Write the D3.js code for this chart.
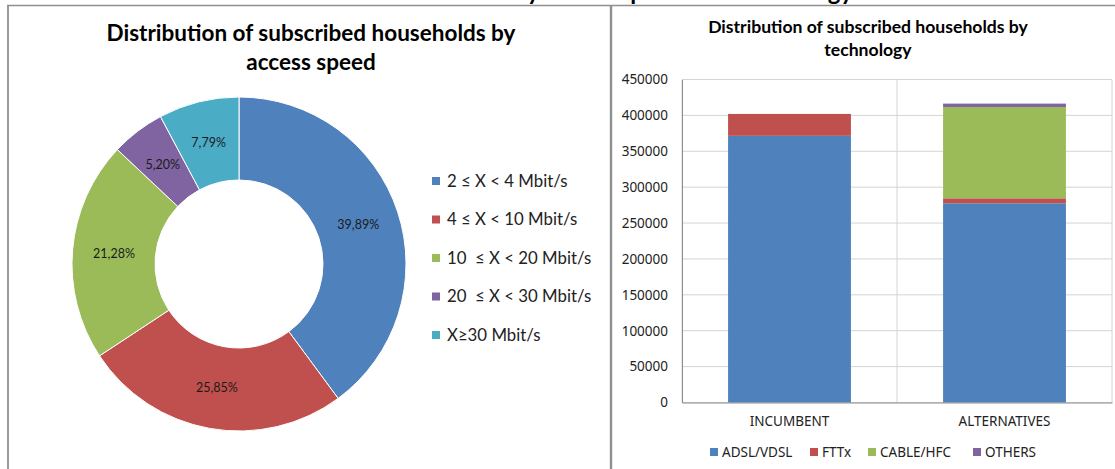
<!DOCTYPE html>
<html>
<head>
<meta charset="utf-8">
<script src="https://cdn.jsdelivr.net/npm/d3@7"></script>
<style>
  html, body { margin: 0; padding: 0; background: #fff; }
  svg { display: block; }
  text { white-space: pre; }
</style>
</head>
<body>
<svg id="chart" width="1115" height="469"></svg>
<script>
// Doughnut: share of subscribed households per access-speed class (%)
const speedCategories = ["2 ≤ X < 4 Mbit/s", "4 ≤ X < 10 Mbit/s", "10  ≤ X < 20 Mbit/s", "20  ≤ X < 30 Mbit/s", "X≥30 Mbit/s"];
const speedShares = [39.89, 25.85, 21.28, 5.20, 7.79];
const speedColors = ["#4F81BD", "#C0504D", "#9BBB59", "#8064A2", "#4BACC6"];

// Stacked bars: subscribed households per operator group and technology
const operatorGroups = ["INCUMBENT", "ALTERNATIVES"];
const technologies = ["ADSL/VDSL", "FTTx", "CABLE/HFC", "OTHERS"];
const adslVdsl = [371500, 277500];
const fttx = [30500, 7000];
const cableHfc = [0, 127200];
const others = [0, 4700];
const techColors = ["#4F81BD", "#C0504D", "#9BBB59", "#8064A2"];
const yTicks = [0, 50000, 100000, 150000, 200000, 250000, 300000, 350000, 400000, 450000];

const svg = d3.select("#chart");
const titleFont = "Lato, 'Open Sans', sans-serif";
const axisFont = "'Noto Sans', 'Open Sans', sans-serif";

// Document heading running above both charts (clipped by the top edge)
svg.append("text")
  .attr("x", 956).attr("y", 0)
  .attr("text-anchor", "end")
  .attr("font-family", titleFont).attr("font-weight", 700).attr("font-size", 24)
  .attr("fill", "#000")
  .text("Chart 3: Distribution of subscribed households by access speed and technology – Croatia");

// Chart frames
const frame = svg.append("g").attr("stroke", "#8f8f8f").attr("fill", "none");
frame.append("line").attr("x1", 7).attr("x2", 1115).attr("y1", 5.5).attr("y2", 5.5).attr("stroke-width", 1.6);
frame.append("line").attr("x1", 8).attr("x2", 8).attr("y1", 5).attr("y2", 469).attr("stroke-width", 1.8);
frame.append("line").attr("x1", 611).attr("x2", 611).attr("y1", 5).attr("y2", 469).attr("stroke-width", 2.4);

// ---------- Left: doughnut by access speed ----------
const left = svg.append("g");
left.append("text")
  .attr("x", 311).attr("y", 41).attr("text-anchor", "middle")
  .attr("font-family", titleFont).attr("font-weight", 700).attr("font-size", 22.5)
  .selectAll("tspan")
  .data(["Distribution of subscribed households by", "access speed"])
  .join("tspan")
  .attr("x", 311).attr("dy", (d, i) => i ? 29 : 0)
  .text(d => d);

const cx = 239, cy = 264, outerR = 167, innerR = 84;
const pie = d3.pie().sort(null).value(d => d);
const arcs = pie(speedShares);
const arc = d3.arc().innerRadius(innerR).outerRadius(outerR);
const labelArc = d3.arc().innerRadius((innerR + outerR) / 2).outerRadius((innerR + outerR) / 2);
const donut = left.append("g").attr("transform", `translate(${cx},${cy})`);
donut.selectAll("path")
  .data(arcs)
  .join("path")
  .attr("d", arc)
  .attr("fill", (d, i) => speedColors[i])
  .attr("stroke", "#fff").attr("stroke-width", 1);

const pct = v => d3.format(".2f")(v).replace(".", ",") + "%";
donut.selectAll("text.val")
  .data(arcs)
  .join("text")
  .attr("class", "val")
  .attr("transform", d => `translate(${labelArc.centroid(d)})`)
  .attr("text-anchor", "middle").attr("dy", "0.35em")
  .attr("font-family", titleFont).attr("font-size", 12.5)
  .attr("fill", "#1b1b1b")
  .text(d => pct(d.data));

const legendY = d3.scalePoint().domain(speedCategories).range([181, 335]);
const leg = left.append("g");
leg.selectAll("rect")
  .data(speedCategories)
  .join("rect")
  .attr("x", 432).attr("y", d => legendY(d) - 4).attr("width", 8).attr("height", 8)
  .attr("fill", (d, i) => speedColors[i]);
leg.selectAll("text")
  .data(speedCategories)
  .join("text")
  .attr("x", 447).attr("y", d => legendY(d)).attr("dy", "0.35em")
  .attr("font-family", titleFont).attr("font-size", 16.8).attr("fill", "#222")
  .text(d => d);

// ---------- Right: stacked columns by technology ----------
const right = svg.append("g");
right.append("text")
  .attr("x", 868).attr("y", 33).attr("text-anchor", "middle")
  .attr("font-family", titleFont).attr("font-weight", 700).attr("font-size", 17.6)
  .selectAll("tspan")
  .data(["Distribution of subscribed households by", "technology"])
  .join("tspan")
  .attr("x", 868).attr("dy", (d, i) => i ? 23 : 0)
  .text(d => d);

const plot = { left: 682, right: 1112, top: 79.5, bottom: 402.5 };
const x = d3.scaleBand().domain(operatorGroups).range([plot.left, plot.right])
  .paddingInner(0.4286).paddingOuter(0.2143);
const y = d3.scaleLinear().domain([0, 450000]).range([plot.bottom, plot.top]);

// horizontal gridlines
right.append("g").selectAll("line")
  .data(yTicks)
  .join("line")
  .attr("x1", plot.left).attr("x2", plot.right)
  .attr("y1", d => y(d)).attr("y2", d => y(d))
  .attr("stroke", "#d4d4d4").attr("stroke-width", 1);
// vertical gridlines on category boundaries
const vBounds = d3.range(operatorGroups.length + 1).map(i => plot.left + i * (plot.right - plot.left) / operatorGroups.length);
right.append("g").selectAll("line")
  .data(vBounds)
  .join("line")
  .attr("x1", d => d).attr("x2", d => d)
  .attr("y1", plot.top).attr("y2", plot.bottom)
  .attr("stroke", "#d4d4d4").attr("stroke-width", 1);

const rows = operatorGroups.map((g, i) => ({
  group: g, "ADSL/VDSL": adslVdsl[i], "FTTx": fttx[i], "CABLE/HFC": cableHfc[i], "OTHERS": others[i]
}));
const stacked = d3.stack().keys(technologies)(rows);
right.append("g").selectAll("g")
  .data(stacked)
  .join("g")
  .attr("fill", (d, i) => techColors[i])
  .selectAll("rect")
  .data(d => d)
  .join("rect")
  .attr("x", d => x(d.data.group))
  .attr("width", x.bandwidth())
  .attr("y", d => y(d[1]))
  .attr("height", d => y(d[0]) - y(d[1]));

// y axis
const yAxis = right.append("g")
  .attr("transform", `translate(${plot.left},0)`)
  .call(d3.axisLeft(y).tickValues(yTicks).tickFormat(d3.format("d")).tickSize(0).tickPadding(14));
yAxis.select(".domain").attr("stroke", "#8c8c8c");
yAxis.selectAll("text").attr("font-family", axisFont).attr("font-size", 13.5).attr("fill", "#222");

// x axis
const xAxis = right.append("g")
  .attr("transform", `translate(0,${plot.bottom})`)
  .call(d3.axisBottom(x).tickSize(0).tickPadding(14));
xAxis.select(".domain").attr("stroke", "#8c8c8c");
xAxis.selectAll("text").attr("font-family", axisFont).attr("font-size", 13.5).attr("fill", "#222");

// bottom legend
const legendX = [710, 810, 868, 973];
const tl = right.append("g");
tl.selectAll("rect")
  .data(technologies)
  .join("rect")
  .attr("x", (d, i) => legendX[i]).attr("y", 448).attr("width", 8).attr("height", 8)
  .attr("fill", (d, i) => techColors[i]);
tl.selectAll("text")
  .data(technologies)
  .join("text")
  .attr("x", (d, i) => legendX[i] + 12).attr("y", 452).attr("dy", "0.35em")
  .attr("font-family", axisFont).attr("font-size", 13.5).attr("fill", "#222")
  .text(d => d);
</script>
</body>
</html>
